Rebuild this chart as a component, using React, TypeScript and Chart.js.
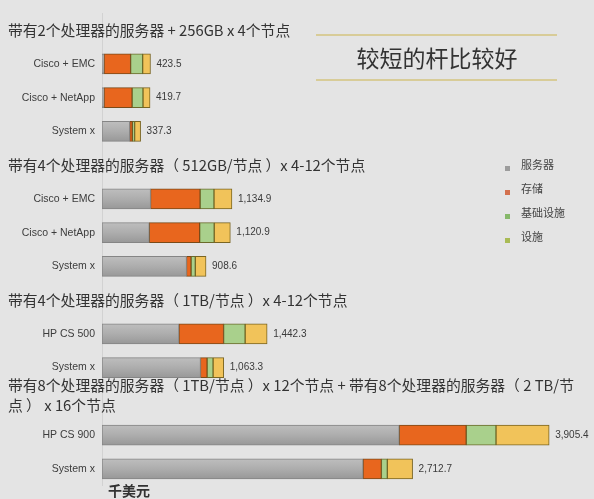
import React, { useEffect, useRef } from 'react';
import { Chart, registerables } from 'chart.js';

Chart.register(...registerables);

// ---- data ----
const categories = [
  '', 'Cisco + EMC', 'Cisco + NetApp', 'System x',
  '', 'Cisco + EMC', 'Cisco + NetApp', 'System x',
  '', 'HP CS 500', 'System x',
  '', 'HP CS 900', 'System x',
];
const groupTitles: string[][] = [
  ['带有2个处理器的服务器 + 256GB x 4个节点'],
  ['带有4个处理器的服务器（ 512GB/节点 ）x 4-12个节点'],
  ['带有4个处理器的服务器（ 1TB/节点 ）x 4-12个节点'],
  ['带有8个处理器的服务器（ 1TB/节点 ）x 12个节点 + 带有8个处理器的服务器（ 2 TB/节', '点 ） x 16个节点'],
];
const seriesNames = ['服务器', '存储', '基础设施', '设施'];
const server = [null, 18, 18, 242, null, 424, 413, 738, null, 672, 860, null, 2596, 2280];
const storage = [null, 232, 245, 23, null, 433, 440, 40, null, 390, 58, null, 585, 160];
const infra = [null, 105, 95, 20, null, 121, 127, 37, null, 188, 52, null, 260, 52];
const facility = [null, 68.5, 61.7, 52.3, null, 156.9, 140.9, 93.6, null, 192.3, 93.3, null, 464.4, 220.7];
const calloutText = '较短的杆比较好';
const unitLabel = '千美元';
const xMax = 4000;

const BG = '#e4e4e4';
const fills = ['#a9a9a9', '#e8661e', '#a9d08c', '#f1c35a'];
const borders = ['#858585', '#7a4a18', '#6a6a2a', '#7a6522'];
const legendColors = ['#9c9c9c', '#d3704e', '#86b86a', '#a9bb55'];

const CJK = '"Noto Sans CJK SC", "Noto Sans", sans-serif';
const LAT = '"Liberation Sans", Arial, sans-serif';

function fmt(v: number) {
  return v.toLocaleString('en-US', { minimumFractionDigits: 1, maximumFractionDigits: 1 });
}

export default function App() {
  const ref = useRef<HTMLCanvasElement>(null);
  useEffect(() => {
    document.body.style.margin = '0';
    document.body.style.background = BG;
    const seriesData = [server, storage, infra, facility];

    const bgPlugin = {
      id: 'bgfill',
      beforeDraw(chart: any) {
        const c = chart.ctx;
        c.save();
        c.fillStyle = BG;
        c.fillRect(0, 0, chart.width, chart.height);
        c.restore();
      },
    };

    const grayFill = (ctx: any) => {
      const chart = ctx.chart;
      const ys = chart.scales && chart.scales.y;
      if (!ys || typeof ctx.dataIndex !== 'number') return fills[0];
      const y = ys.getPixelForValue(ctx.dataIndex);
      if (!Number.isFinite(y)) return fills[0];
      const h = 20;
      const g = chart.ctx.createLinearGradient(0, y - h / 2, 0, y + h / 2);
      g.addColorStop(0, '#bebebe');
      g.addColorStop(0.5, '#adadad');
      g.addColorStop(1, '#989898');
      return g;
    };

    const overlay = {
      id: 'overlay',
      afterDatasetsDraw(chart: any) {
        const c = chart.ctx;
        const xs = chart.scales.x;
        const ys = chart.scales.y;
        c.save();
        // value labels
        c.font = `10px ${LAT}`;
        c.fillStyle = '#3a3a3a';
        c.textAlign = 'left';
        c.textBaseline = 'middle';
        categories.forEach((cat, i) => {
          if (!cat) return;
          let total = 0;
          seriesData.forEach((s) => { total += (s[i] as number) || 0; });
          total = Math.round(total * 10) / 10;
          c.fillText(fmt(total), xs.getPixelForValue(total) + 6, ys.getPixelForValue(i));
        });
        // group titles
        c.font = `14.8px ${CJK}`;
        c.fillStyle = '#333';
        let g = 0;
        categories.forEach((cat, i) => {
          if (cat) return;
          const lines = groupTitles[g++] || [];
          const y0 = ys.getPixelForValue(i);
          const lh = 20;
          const start = y0 - ((lines.length - 1) * lh) / 2 - (lines.length > 1 ? 6 : 0);
          lines.forEach((ln, k) => c.fillText(ln, 8, start + k * lh));
        });
        // legend
        c.font = `11px ${CJK}`;
        seriesNames.forEach((n, k) => {
          const y = 165 + k * 24;
          c.fillStyle = legendColors[k];
          c.fillRect(505, y + 1, 5, 5);
          c.fillStyle = '#444';
          c.fillText(n, 521, y);
        });
        // callout
        c.strokeStyle = '#d8cc98';
        c.lineWidth = 2;
        c.beginPath();
        c.moveTo(316, 35); c.lineTo(557, 35);
        c.moveTo(316, 80); c.lineTo(557, 80);
        c.stroke();
        c.font = `23px ${CJK}`;
        c.fillStyle = '#333';
        c.textAlign = 'center';
        c.fillText(calloutText, 437, 58);
        // unit
        c.font = `bold 14px ${CJK}`;
        c.textAlign = 'left';
        c.fillText(unitLabel, 108, 491);
        c.restore();
      },
    };

    const chart = new Chart(ref.current!, {
      type: 'bar',
      data: {
        labels: categories,
        datasets: seriesNames.map((name, k) => ({
          label: name,
          data: seriesData[k] as any,
          backgroundColor: k === 0 ? grayFill : fills[k],
          borderColor: borders[k],
          borderWidth: 1,
          borderSkipped: false,
          barThickness: 20,
        })),
      },
      options: {
        indexAxis: 'y',
        responsive: false,
        animation: false,
        layout: { padding: { top: 0, bottom: 12, right: 34, left: 0 } },
        plugins: {
          legend: { display: false },
          tooltip: { enabled: false },
        },
        scales: {
          x: {
            stacked: true,
            display: false,
            min: 0,
            max: xMax,
          },
          y: {
            stacked: true,
            grid: { display: false, drawTicks: false },
            border: { display: true, color: '#d2d2d2', width: 1 },
            ticks: {
              padding: 7,
              color: '#3c3c3c',
              font: { family: LAT, size: 10.5 },
              autoSkip: false,
            },
            afterFit(scale: any) { scale.width = 102; },
          },
        },
      },
      plugins: [bgPlugin, overlay],
    } as any);
    return () => chart.destroy();
  }, []);
  return (
    <div style={{ width: 594, height: 499 }}>
      <canvas ref={ref} width={594} height={499} style={{ display: 'block' }} />
    </div>
  );
}
